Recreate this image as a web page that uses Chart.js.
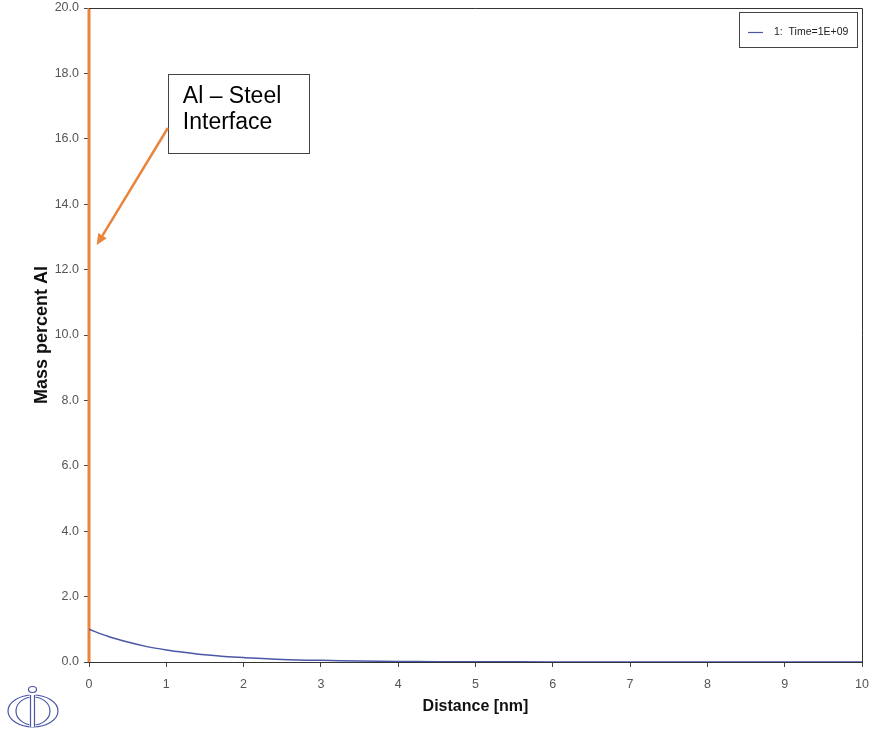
<!DOCTYPE html>
<html>
<head>
<meta charset="utf-8">
<script src="https://cdn.jsdelivr.net/npm/chart.js@4/dist/chart.umd.min.js"></script>
<style>
  html, body { margin: 0; padding: 0; background: #fff; }
  #wrap { width: 874px; height: 731px; }
</style>
</head>
<body>
<div id="wrap"><canvas id="c" width="874" height="731"></canvas></div>
<script>
// Al concentration profile after diffusion, Time = 1E+09
const distanceNm = [0, 0.25, 0.5, 0.75, 1, 1.25, 1.5, 1.75, 2, 2.5, 3, 3.5, 4, 4.5, 5, 6, 7, 8, 9, 10];
const massPercentAl = [1.00, 0.78, 0.61, 0.47, 0.37, 0.29, 0.22, 0.17, 0.135, 0.08, 0.05, 0.03, 0.018, 0.011, 0.007, 0.0025, 0.001, 0.0003, 0.0001, 0.0];
const seriesLabel = '1:  Time=1E+09';

// Interface marker at distance 0 across the full axis range
const interfaceX = [0, 0];
const interfaceY = [0, 20];

// Callout: box corners and arrow (tail -> tip) in data units
const calloutLines = ['Al \u2013 Steel', 'Interface'];
const calloutBox = { x0: 1.02, y0: 17.98, x1: 2.84, y1: 15.57 };
const calloutArrow = { x0: 1.02, y0: 16.33, x1: 0.10, y1: 12.75 };

const xTicks = [0, 1, 2, 3, 4, 5, 6, 7, 8, 9, 10];
const yTicks = [0, 2, 4, 6, 8, 10, 12, 14, 16, 18, 20];

const FONT = "'Liberation Sans', Arial, sans-serif";
const ORANGE = '#e8843c';
const BLUE = '#4a56a6';

const decor = {
  id: 'decor',
  afterDatasetsDraw(chart) {
    const { ctx, chartArea: a, scales } = chart;
    const sx = scales.x, sy = scales.y;
    ctx.save();
    // frame top and right
    ctx.strokeStyle = '#333';
    ctx.lineWidth = 1;
    ctx.beginPath();
    ctx.moveTo(a.left, a.top + 0.5);
    ctx.lineTo(a.right + 0.5, a.top + 0.5);
    ctx.lineTo(a.right + 0.5, a.bottom);
    ctx.stroke();

    // legend box
    ctx.fillStyle = '#fff';
    ctx.fillRect(739.5, 12.5, 118, 35);
    ctx.strokeStyle = '#444';
    ctx.strokeRect(739.5, 12.5, 118, 35);
    ctx.strokeStyle = BLUE;
    ctx.lineWidth = 1.2;
    ctx.beginPath();
    ctx.moveTo(748, 32.5);
    ctx.lineTo(763, 32.5);
    ctx.stroke();
    ctx.fillStyle = '#222';
    ctx.font = '10.5px ' + FONT;
    ctx.textBaseline = 'middle';
    ctx.textAlign = 'left';
    ctx.fillText(seriesLabel, 774, 32.5);

    // callout box
    const bx0 = sx.getPixelForValue(calloutBox.x0), by0 = sy.getPixelForValue(calloutBox.y0);
    const bx1 = sx.getPixelForValue(calloutBox.x1), by1 = sy.getPixelForValue(calloutBox.y1);
    ctx.fillStyle = '#fff';
    ctx.fillRect(bx0, by0, bx1 - bx0, by1 - by0);
    ctx.strokeStyle = '#444';
    ctx.lineWidth = 1;
    ctx.strokeRect(Math.round(bx0) + 0.5, Math.round(by0) + 0.5, Math.round(bx1 - bx0), Math.round(by1 - by0));
    ctx.fillStyle = '#000';
    ctx.font = '23px ' + FONT;
    ctx.textBaseline = 'alphabetic';
    ctx.fillText(calloutLines[0], bx0 + 15, by0 + 29);
    ctx.fillText(calloutLines[1], bx0 + 15, by0 + 55);

    // arrow
    const ax0 = sx.getPixelForValue(calloutArrow.x0), ay0 = sy.getPixelForValue(calloutArrow.y0);
    const ax1 = sx.getPixelForValue(calloutArrow.x1), ay1 = sy.getPixelForValue(calloutArrow.y1);
    const ang = Math.atan2(ay1 - ay0, ax1 - ax0);
    const head = 11, hw = 5;
    const bxh = ax1 - head * Math.cos(ang), byh = ay1 - head * Math.sin(ang);
    ctx.strokeStyle = ORANGE;
    ctx.lineWidth = 2.5;
    ctx.beginPath();
    ctx.moveTo(ax0, ay0);
    ctx.lineTo(bxh, byh);
    ctx.stroke();
    ctx.fillStyle = ORANGE;
    ctx.beginPath();
    ctx.moveTo(ax1, ay1);
    ctx.lineTo(bxh + hw * Math.sin(ang), byh - hw * Math.cos(ang));
    ctx.lineTo(bxh - hw * Math.sin(ang), byh + hw * Math.cos(ang));
    ctx.closePath();
    ctx.fill();

    // logo
    ctx.strokeStyle = '#4a56a6';
    ctx.lineWidth = 1.2;
    ctx.beginPath(); ctx.ellipse(33, 711, 25, 16, 0, 0, Math.PI * 2); ctx.stroke();
    ctx.beginPath(); ctx.ellipse(33, 711, 17, 14, 0, 0, Math.PI * 2); ctx.stroke();
    ctx.fillStyle = '#fff';
    ctx.fillRect(29.5, 694, 6, 33);
    ctx.beginPath();
    ctx.moveTo(30.5, 695); ctx.lineTo(30.5, 727);
    ctx.moveTo(34.5, 695); ctx.lineTo(34.5, 727);
    ctx.stroke();
    ctx.beginPath(); ctx.ellipse(32.5, 689.5, 4, 3, 0, 0, Math.PI * 2); ctx.stroke();
    ctx.restore();
  }
};

new Chart(document.getElementById('c'), {
  type: 'scatter',
  data: {
    datasets: [
      {
        label: seriesLabel,
        data: distanceNm.map((d, i) => ({ x: d, y: massPercentAl[i] })),
        showLine: true,
        borderColor: BLUE,
        borderWidth: 1.5,
        pointRadius: 0,
        tension: 0.3,
        fill: false
      },
      {
        label: 'interface',
        data: interfaceX.map((d, i) => ({ x: d, y: interfaceY[i] })),
        showLine: true,
        borderColor: ORANGE,
        borderWidth: 3,
        pointRadius: 0,
        clip: false
      }
    ]
  },
  options: {
    responsive: false,
    animation: false,
    devicePixelRatio: 1,
    layout: { padding: { top: 8, right: 12, left: 0, bottom: 0 } },
    plugins: { legend: { display: false }, tooltip: { enabled: false } },
    scales: {
      x: {
        type: 'linear',
        min: 0, max: 10,
        afterBuildTicks: s => { s.ticks = xTicks.map(v => ({ value: v })); },
        afterFit: s => { s.height = 69; s.paddingLeft = 0; s.paddingRight = 0; },
        grid: { drawOnChartArea: false, drawTicks: true, tickLength: 5, color: '#444' },
        border: { display: true, color: '#333', width: 1 },
        ticks: { color: '#555', font: { family: FONT, size: 12.5 }, padding: 10, maxRotation: 0,
                 callback: v => String(v) },
        title: { display: true, text: 'Distance [nm]', color: '#111',
                 font: { family: FONT, size: 16, weight: 'bold' }, padding: { top: 4, bottom: 15 } }
      },
      y: {
        type: 'linear',
        min: 0, max: 20,
        afterBuildTicks: s => { s.ticks = yTicks.map(v => ({ value: v })); },
        afterFit: s => { s.width = 89; s.paddingTop = 0; s.paddingBottom = 0; },
        grid: { drawOnChartArea: false, drawTicks: true, tickLength: 5, color: '#444' },
        border: { display: true, color: '#333', width: 1 },
        ticks: { color: '#555', font: { family: FONT, size: 12.5 }, padding: 5,
                 callback: v => Number(v).toFixed(1) },
        title: { display: true, text: 'Mass percent Al', color: '#111',
                 font: { family: FONT, size: 18, weight: 'bold' }, padding: { top: 31, bottom: 8 } }
      }
    }
  },
  plugins: [decor]
});
</script>
</body>
</html>
